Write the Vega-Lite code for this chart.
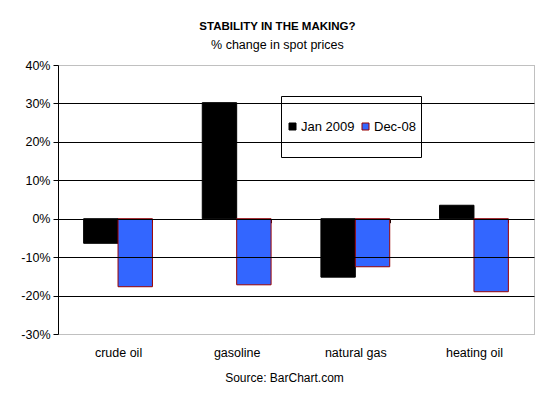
{
  "$schema": "https://vega.github.io/schema/vega-lite/v6.json",
  "width": 476,
  "height": 269,
  "autosize": {"type": "none"},
  "padding": {"left": 58, "top": 65, "right": 19, "bottom": 63},
  "background": "white",
  "title": {
    "text": "STABILITY IN THE MAKING?",
    "subtitle": "% change in spot prices",
    "font": "Liberation Sans",
    "fontSize": 11.5,
    "fontWeight": "bold",
    "color": "black",
    "subtitleFont": "Liberation Sans",
    "subtitleFontSize": 12.5,
    "subtitleColor": "black",
    "subtitlePadding": 6,
    "anchor": "middle",
    "frame": "bounds",
    "offset": 8
  },
  "data": {
    "values": [
      {"commodity": "crude oil", "series": "Jan 2009", "change": -6.4},
      {"commodity": "crude oil", "series": "Dec-08", "change": -17.7},
      {"commodity": "gasoline", "series": "Jan 2009", "change": 30.2},
      {"commodity": "gasoline", "series": "Dec-08", "change": -17.2},
      {"commodity": "natural gas", "series": "Jan 2009", "change": -15.2},
      {"commodity": "natural gas", "series": "Dec-08", "change": -12.5},
      {"commodity": "heating oil", "series": "Jan 2009", "change": 3.5},
      {"commodity": "heating oil", "series": "Dec-08", "change": -19.0}
    ]
  },
  "mark": {"type": "bar", "strokeWidth": 1},
  "encoding": {
    "x": {
      "field": "commodity",
      "type": "nominal",
      "sort": ["crude oil", "gasoline", "natural gas", "heating oil"],
      "scale": {"paddingInner": 0.42, "paddingOuter": 0.216},
      "axis": {
        "orient": "bottom",
        "offset": -115.3,
        "domain": false,
        "grid": false,
        "tickBand": "extent",
        "tickSize": 4,
        "tickColor": "black",
        "labelAngle": 0,
        "labelPadding": 124,
        "labelFont": "Liberation Sans",
        "labelFontSize": 12.5,
        "labelColor": "black",
        "title": "Source: BarChart.com",
        "titleFont": "Liberation Sans",
        "titleFontSize": 12,
        "titleFontWeight": "normal",
        "titleColor": "black",
        "titlePadding": 13,
        "titleX": 226
      }
    },
    "xOffset": {"field": "series", "sort": ["Jan 2009", "Dec-08"], "scale": {"paddingInner": 0}},
    "y": {
      "field": "change",
      "type": "quantitative",
      "scale": {"domain": [-30, 40], "nice": false},
      "axis": {
        "values": [-30, -20, -10, 0, 10, 20, 30, 40],
        "labelExpr": "datum.value + '%'",
        "title": null,
        "domainColor": "black",
        "tickColor": "black",
        "tickSize": 5,
        "labelPadding": 3,
        "labelFont": "Liberation Sans",
        "labelFontSize": 12.5,
        "labelColor": "black",
        "grid": true,
        "gridOpacity": 1,
        "gridColor": {"condition": {"test": "datum.value == 40 || datum.value == -30", "value": "transparent"}, "value": "black"},
        "zindex": 1
      }
    },
    "fill": {
      "field": "series",
      "type": "nominal",
      "sort": ["Jan 2009", "Dec-08"],
      "scale": {"domain": ["Jan 2009", "Dec-08"], "range": ["black", "#3366FF"]},
      "legend": {
        "title": null,
        "orient": "none",
        "legendX": 223,
        "legendY": 31,
        "direction": "horizontal",
        "gridAlign": "none",
        "fillColor": "white",
        "strokeColor": "black",
        "padding": 5,
        "clipHeight": 51,
        "symbolType": "square",
        "symbolSize": 49,
        "symbolStrokeWidth": 1,
        "symbolOpacity": 1,
        "labelFont": "Liberation Sans",
        "labelFontSize": 13,
        "labelColor": "black",
        "labelOffset": 2,
        "columnPadding": 4
      }
    },
    "stroke": {
      "field": "series",
      "type": "nominal",
      "sort": ["Jan 2009", "Dec-08"],
      "scale": {"domain": ["Jan 2009", "Dec-08"], "range": ["black", "#990000"]},
      "legend": {
        "title": null,
        "orient": "none",
        "legendX": 223,
        "legendY": 31,
        "direction": "horizontal",
        "gridAlign": "none",
        "fillColor": "white",
        "strokeColor": "black",
        "padding": 5,
        "clipHeight": 51,
        "symbolType": "square",
        "symbolSize": 49,
        "symbolStrokeWidth": 1,
        "symbolOpacity": 1,
        "labelFont": "Liberation Sans",
        "labelFontSize": 13,
        "labelColor": "black",
        "labelOffset": 2,
        "columnPadding": 4
      }
    }
  },
  "config": {
    "view": {"stroke": "#808080", "strokeDash": [1, 1]}
  }
}
